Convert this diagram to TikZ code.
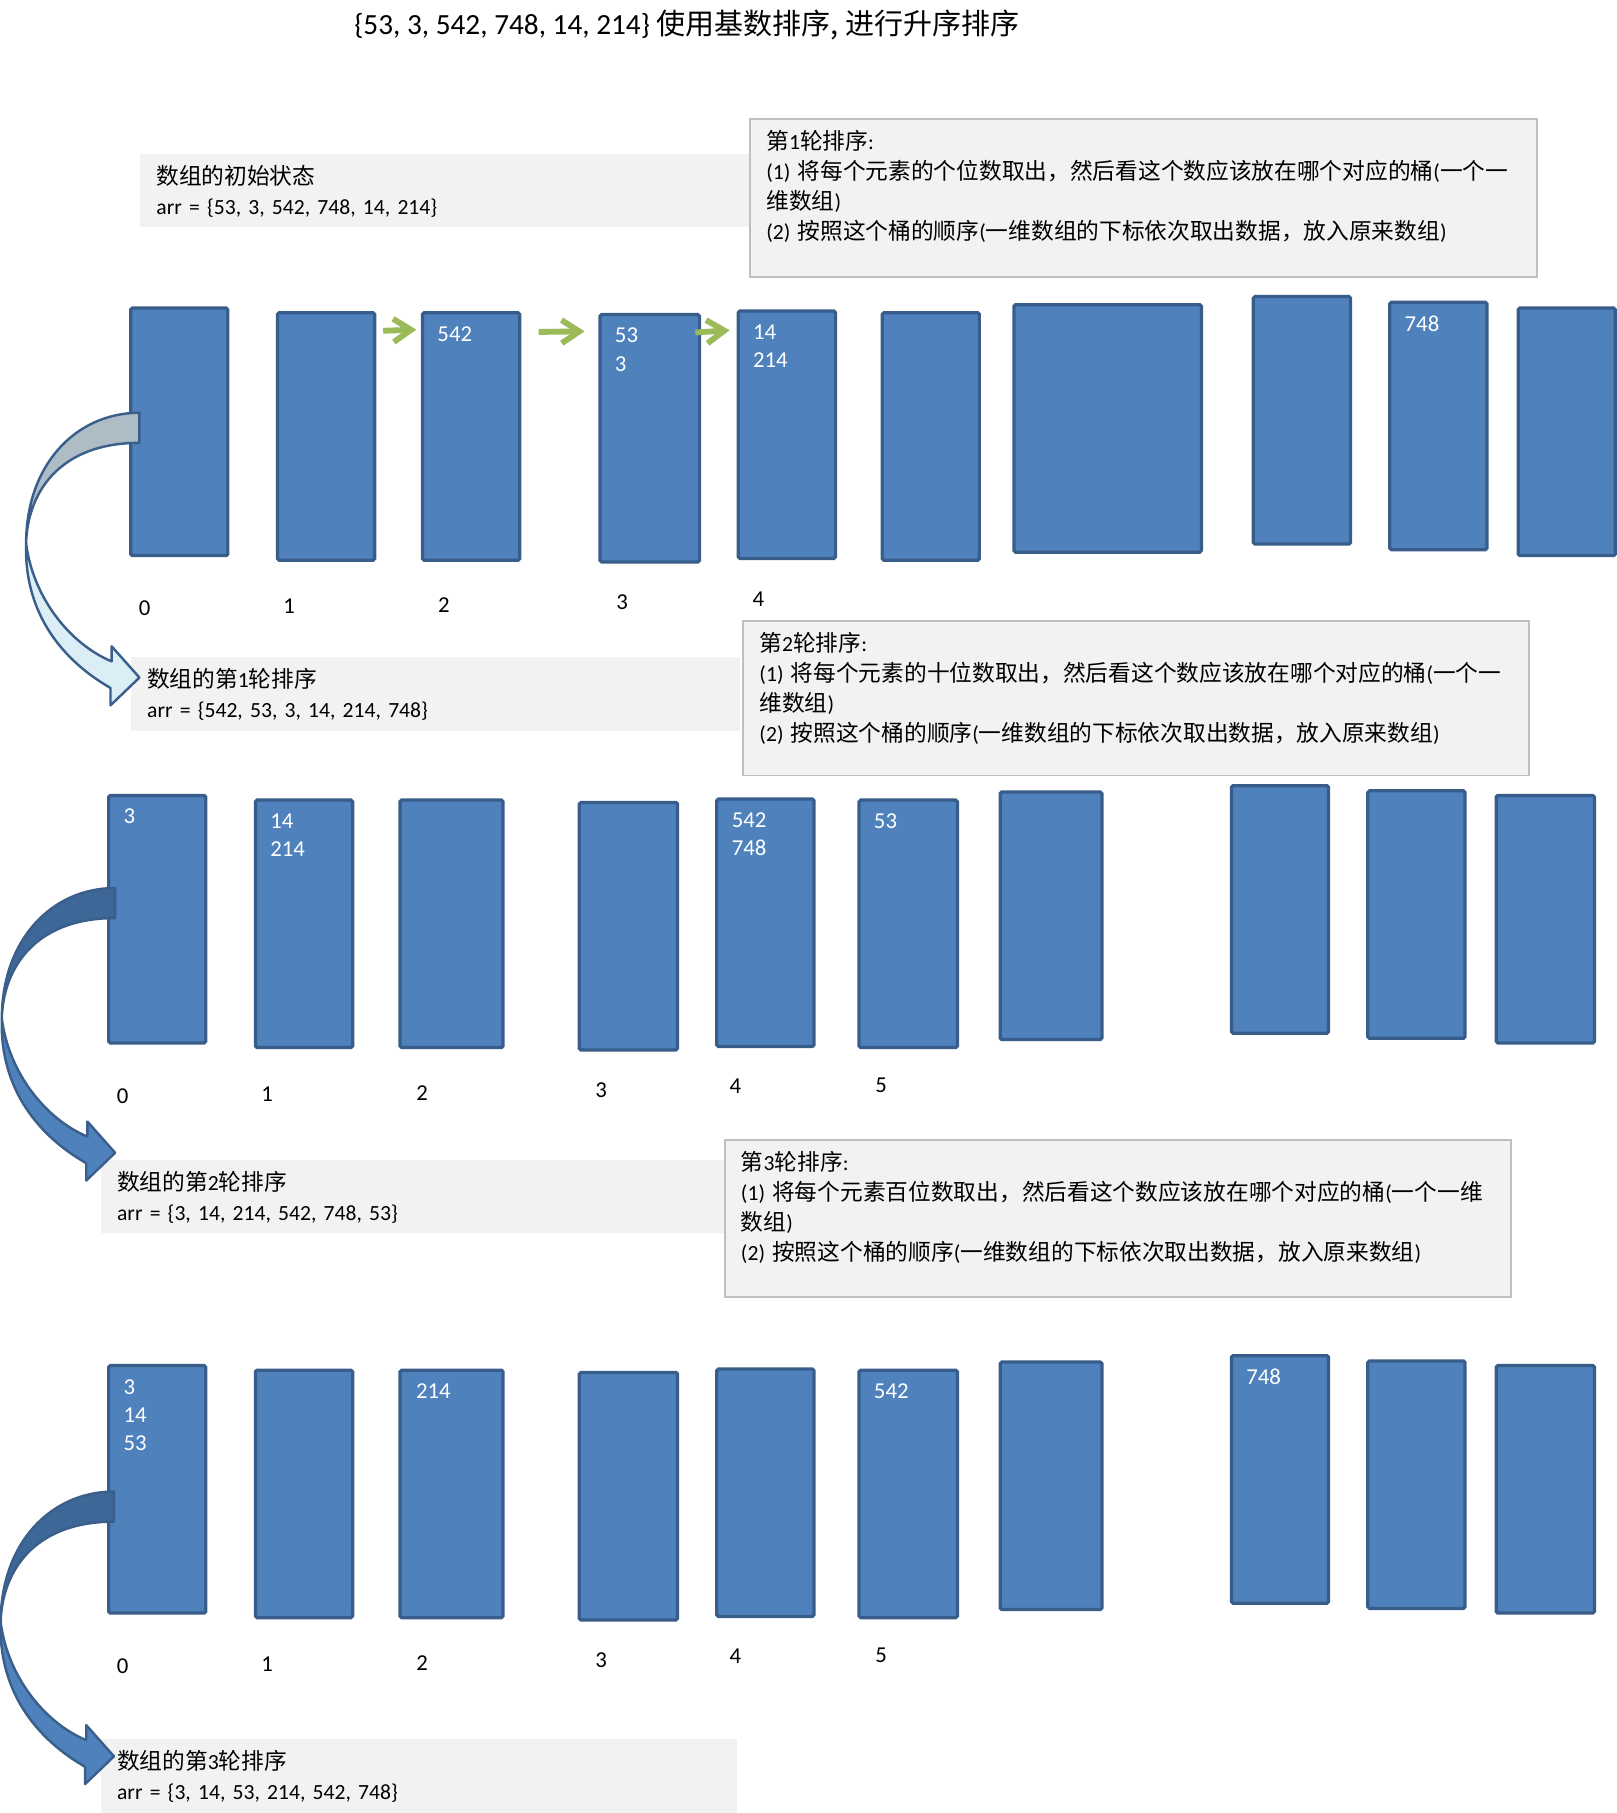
\documentclass[tikz,border=0pt]{standalone}
\usepackage{fontspec}
\setmainfont{Carlito}
\newfontfamily\cjk{Noto Sans CJK SC}[Scale=1.05]
\usepackage{tikz}
\usetikzlibrary{arrows.meta,positioning}
\frenchspacing

\definecolor{bucketblue}{HTML}{4F81BD}
\definecolor{bucketedge}{HTML}{385D8A}
\definecolor{panelgray}{HTML}{F2F2F2}
\definecolor{paneledge}{HTML}{BFBFBF}
\definecolor{stepgreen}{HTML}{9BBB59}
\definecolor{bendedge}{HTML}{3A5F8B}
\definecolor{bendgray}{HTML}{AEBDC5}
\definecolor{bendlight}{HTML}{DCEEF5}
\definecolor{benddark}{HTML}{3D6797}

\tikzset{
  bendback/.style={fill=benddark},
  bendfront/.style={fill=bucketblue},
  bendarrow/.pic={
    \filldraw[bendback, draw=bendedge, line width=1.5pt, line join=round]
      (0,0) .. controls (-55,0) and (-98,45) .. (-98,113)
      .. controls (-97,70) and (-70,26) .. (0,26) -- cycle;
    \filldraw[bendfront, draw=bendedge, line width=1.5pt, line join=round]
      (-98,113) .. controls (-100,175) and (-65,215) .. (-25,238)
      -- (-25,253) -- (0,229) -- (-24,202) -- (-24,215)
      .. controls (-60,200) and (-92,160) .. (-98,113) -- cycle;
  }
}

\begin{document}
\begin{tikzpicture}[
    x=0.025cm, y=-0.025cm,
    bucket/.style={rectangle, draw=bucketedge, fill=bucketblue, line width=2pt,
                   rounded corners=1pt, minimum width=2.1cm, minimum height=5.35cm, inner sep=0pt},
    num/.style={anchor=north west, inner sep=0pt, align=left, text=white,
                font=\fontsize{14}{17.4}\selectfont},
    idx/.style={inner sep=0pt, font=\fontsize{14}{17}\selectfont},
    panel/.style={rectangle, fill=panelgray, anchor=north west, align=left,
                  inner xsep=0.35cm, inner ysep=0.26cm, text height=0.4cm,
                  font=\fontsize{13.3}{18.4}\selectfont},
    rulebox/.style={panel, draw=paneledge, line width=1.2pt},
    nextarrow/.style={draw=stepgreen, line width=3.6pt,
                      -{Straight Barb[length=3.8mm, width=5mm]}},
]
    \useasboundingbox (0,0) rectangle (1398,1568);

    \node[font=\fontsize{18}{22}\selectfont] (title) at (594,22)
        {\{53, 3, 542, 748, 14, 214\} {\cjk\fontsize{17}{22}\selectfont 使用基数排序, 进行升序排序}};

    % text panels
    \node[panel, text width=12.475cm, text depth=0.65cm] (init) at (121,133)
        {{\cjk 数组的初始状态}\\arr = \{53, 3, 542, 748, 14, 214\}};
    \node[rulebox, text width=16.3cm, text depth=2.5cm] (rule1) at (648,102)
        {{\cjk 第}1{\cjk 轮排序}:\\
         (1) {\cjk 将每个元素的个位数取出，然后看这个数应该放在哪个对应的桶}({\cjk 一个一}\\
         {\cjk 维数组})\\
         (2) {\cjk 按照这个桶的顺序}({\cjk 一维数组的下标依次取出数据，放入原来数组})};

    \node[panel, text width=12.475cm, text depth=0.675cm] (res1) at (113,568)
        {{\cjk 数组的第}1{\cjk 轮排序}\\arr = \{542, 53, 3, 14, 214, 748\}};
    \node[rulebox, text width=16.275cm, text depth=2.425cm] (rule2) at (642,536)
        {{\cjk 第}2{\cjk 轮排序}:\\
         (1) {\cjk 将每个元素的十位数取出，然后看这个数应该放在哪个对应的桶}({\cjk 一个一}\\
         {\cjk 维数组})\\
         (2) {\cjk 按照这个桶的顺序}({\cjk 一维数组的下标依次取出数据，放入原来数组})};

    \node[panel, text width=12.8cm, text depth=0.65cm] (res2) at (87,1003)
        {{\cjk 数组的第}2{\cjk 轮排序}\\arr = \{3, 14, 214, 542, 748, 53\}};
    \node[rulebox, text width=16.3cm, text depth=2.475cm] (rule3) at (626,985)
        {{\cjk 第}3{\cjk 轮排序}:\\
         (1) {\cjk 将每个元素百位数取出，然后看这个数应该放在哪个对应的桶}({\cjk 一个一维}\\
         {\cjk 数组})\\
         (2) {\cjk 按照这个桶的顺序}({\cjk 一维数组的下标依次取出数据，放入原来数组})};

    \node[panel, text width=13.05cm, text depth=0.675cm] (res3) at (87,1504)
        {{\cjk 数组的第}3{\cjk 轮排序}\\arr = \{3, 14, 53, 214, 542, 748\}};

    % pass 1 buckets
    \node[bucket] (p1b0) at (155,373.5) {};
    \node[bucket] (p1b1) at (282,377.5) {};
    \node[bucket] (p1b2) at (407.5,377.5) {};
    \node[bucket, minimum width=2.15cm] (p1b3) at (562,379) {};
    \node[bucket] (p1b4) at (680.5,376) {};
    \node[bucket] (p1b5) at (805,377.5) {};
    \node[bucket, minimum width=4.05cm] (p1b6) at (958,370.5) {};
    \node[bucket] (p1b7) at (1126,363.5) {};
    \node[bucket] (p1b8) at (1244,368.5) {};
    \node[bucket] (p1b9) at (1355,373.5) {};

    \node[num] (p1n2) at ([shift={(14,13)}]p1b2.north west) {542};
    \node[num] (p1n3) at ([shift={(14,13)}]p1b3.north west) {53\\3};
    \node[num] (p1n4) at ([shift={(14,13)}]p1b4.north west) {14\\214};
    \node[num] (p1n8) at ([shift={(14,13)}]p1b8.north west) {748};

    \node[idx] (p1i0) at (125,526) {0};
    \node[idx] (p1i1) at (250,524) {1};
    \node[idx] (p1i2) at (384,523) {2};
    \node[idx] (p1i3) at (538,521) {3};
    \node[idx] (p1i4) at (656,518) {4};

    \draw[nextarrow] ([shift={(6,17)}]p1b1.north east) -- ([shift={(-4,16)}]p1b2.north west);
    \draw[nextarrow] ([shift={(15,18)}]p1b2.north east) -- ([shift={(-12,16)}]p1b3.north west);
    \draw[nextarrow] ([shift={(-5,17)}]p1b3.north east) -- ([shift={(-6,18)}]p1b4.north west);

    % pass 2 buckets
    \node[bucket] (p2b0) at (136,795) {};
    \node[bucket] (p2b1) at (263,799) {};
    \node[bucket, minimum width=2.225cm] (p2b2) at (390.5,799) {};
    \node[bucket, minimum width=2.125cm] (p2b3) at (543.5,801) {};
    \node[bucket] (p2b4) at (662,798) {};
    \node[bucket, minimum width=2.125cm] (p2b5) at (785.5,799) {};
    \node[bucket, minimum width=2.2cm] (p2b6) at (909,792) {};
    \node[bucket] (p2b7) at (1107,786.5) {};
    \node[bucket] (p2b8) at (1225,791) {};
    \node[bucket, minimum width=2.125cm] (p2b9) at (1336.5,795) {};

    \node[num] (p2n0) at ([shift={(14,13)}]p2b0.north west) {3};
    \node[num] (p2n1) at ([shift={(14,13)}]p2b1.north west) {14\\214};
    \node[num] (p2n4) at ([shift={(14,13)}]p2b4.north west) {542\\748};
    \node[num] (p2n5) at ([shift={(14,13)}]p2b5.north west) {53};

    \node[idx] (p2i0) at (106,948) {0};
    \node[idx] (p2i1) at (231,946) {1};
    \node[idx] (p2i2) at (365,945) {2};
    \node[idx] (p2i3) at (520,943) {3};
    \node[idx] (p2i4) at (636,939) {4};
    \node[idx] (p2i5) at (762,939) {5};

    % pass 3 buckets
    \node[bucket] (p3b0) at (136,1288) {};
    \node[bucket] (p3b1) at (263,1292) {};
    \node[bucket, minimum width=2.225cm] (p3b2) at (390.5,1292) {};
    \node[bucket, minimum width=2.125cm] (p3b3) at (543.5,1294) {};
    \node[bucket] (p3b4) at (662,1291) {};
    \node[bucket, minimum width=2.125cm] (p3b5) at (785.5,1292) {};
    \node[bucket, minimum width=2.2cm] (p3b6) at (909,1285) {};
    \node[bucket] (p3b7) at (1107,1279.5) {};
    \node[bucket] (p3b8) at (1225,1284) {};
    \node[bucket, minimum width=2.125cm] (p3b9) at (1336.5,1288) {};

    \node[num] (p3n0) at ([shift={(14,13)}]p3b0.north west) {3\\14\\53};
    \node[num] (p3n2) at ([shift={(15,13)}]p3b2.north west) {214};
    \node[num] (p3n5) at ([shift={(14,13)}]p3b5.north west) {542};
    \node[num] (p3n7) at ([shift={(14,13)}]p3b7.north west) {748};

    \node[idx] (p3i0) at (106,1441) {0};
    \node[idx] (p3i1) at (231,1439) {1};
    \node[idx] (p3i2) at (365,1438) {2};
    \node[idx] (p3i3) at (520,1436) {3};
    \node[idx] (p3i4) at (636,1432) {4};
    \node[idx] (p3i5) at (762,1432) {5};

    % curved arrows from bucket 0 down to the result
    \pic[bendback/.style={fill=bendgray}, bendfront/.style={fill=bendlight}]
        at ([shift={(9,-16.5)}]p1b0.west) {bendarrow};
    \pic at ([shift={(7,-27)}]p2b0.west) {bendarrow};
    \pic at ([shift={(6,2)}]p3b0.west) {bendarrow};
\end{tikzpicture}
\end{document}
